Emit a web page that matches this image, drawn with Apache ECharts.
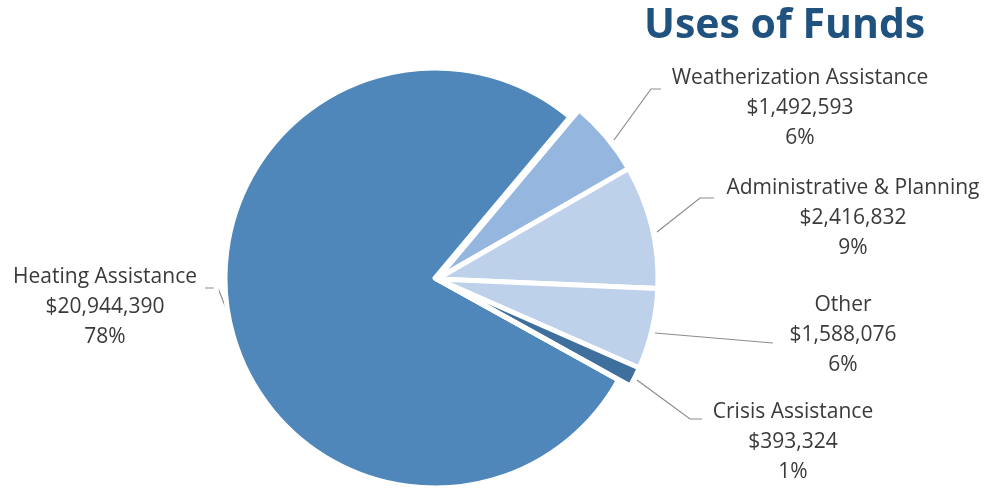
<!DOCTYPE html>
<html>
<head>
<meta charset="utf-8">
<script src="https://cdn.jsdelivr.net/npm/echarts@6/dist/echarts.min.js"></script>
<style>html,body{margin:0;padding:0;background:#fff}#c{width:986px;height:489px}</style>
</head>
<body>
<div id="c"></div>
<script>
// Data
var categories = ['Weatherization Assistance', 'Administrative & Planning', 'Other', 'Crisis Assistance', 'Heating Assistance'];
var values = [1492593, 2416832, 1588076, 393324, 20944390];
var colors = ['#95B7DF', '#BED1EB', '#BED1EB', '#3F6F9D', '#4F87BA'];
var titleText = 'Uses of Funds';

// Label layout (styling/positions)
var labelPos = [[800, 108], [853, 218], [843, 335], [793, 442], [105, 307]];
var linePts = [
  [[614, 140], [651, 89], [661, 89]],
  [[657, 232], [700, 198], [714, 198]],
  [[655, 333], [714, 338], [773, 343]],
  [[637, 380], [690, 419], [702, 419]],
  [[227, 311], [218, 288], [205, 288]]
];

var FONT = 'Open Sans';
function fmt(v) { return '$' + v.toLocaleString('en-US'); }

function buildData(showIdx) {
  return categories.map(function (name, i) {
    var show = showIdx(i);
    return {
      name: name,
      value: values[i],
      itemStyle: show ? { color: colors[i] } : { color: 'rgba(0,0,0,0)' },
      label: { show: show },
      labelLine: { show: show }
    };
  });
}

function layoutFn(params) {
  var i = params.dataIndex;
  return {
    x: labelPos[i][0],
    y: labelPos[i][1],
    align: 'center',
    verticalAlign: 'middle',
    labelLinePoints: linePts[i]
  };
}

var common = {
  type: 'pie',
  startAngle: 50,
  clockwise: true,
  avoidLabelOverlap: false,
  silent: true,
  animation: false,
  itemStyle: { borderColor: '#fff', borderWidth: 5, borderJoin: 'round' },
  label: {
    formatter: function (p) { return p.name + '\n' + fmt(p.value) + '\n' + Math.round(p.percent) + '%'; },
    fontFamily: FONT,
    fontSize: 21,
    lineHeight: 30,
    color: '#3A3A3A',
    align: 'center'
  },
  labelLine: { lineStyle: { color: '#8C8C8C', width: 1.2 }, smooth: false },
  labelLayout: layoutFn
};

var chart = echarts.init(document.getElementById('c'), null, { renderer: 'canvas' });
chart.setOption({
  backgroundColor: '#fff',
  animation: false,
  title: {
    text: titleText,
    left: 639,
    top: 1,
    textStyle: { fontFamily: FONT, fontWeight: 'bold', fontSize: 41, color: '#1F527F' }
  },
  series: [
    Object.assign({}, common, {
      center: [435, 278],
      radius: 210,
      data: buildData(function (i) { return i === 4; })
    }),
    Object.assign({}, common, {
      center: [437, 279],
      radius: 221,
      data: buildData(function (i) { return i !== 4; })
    })
  ]
});
</script>
</body>
</html>
